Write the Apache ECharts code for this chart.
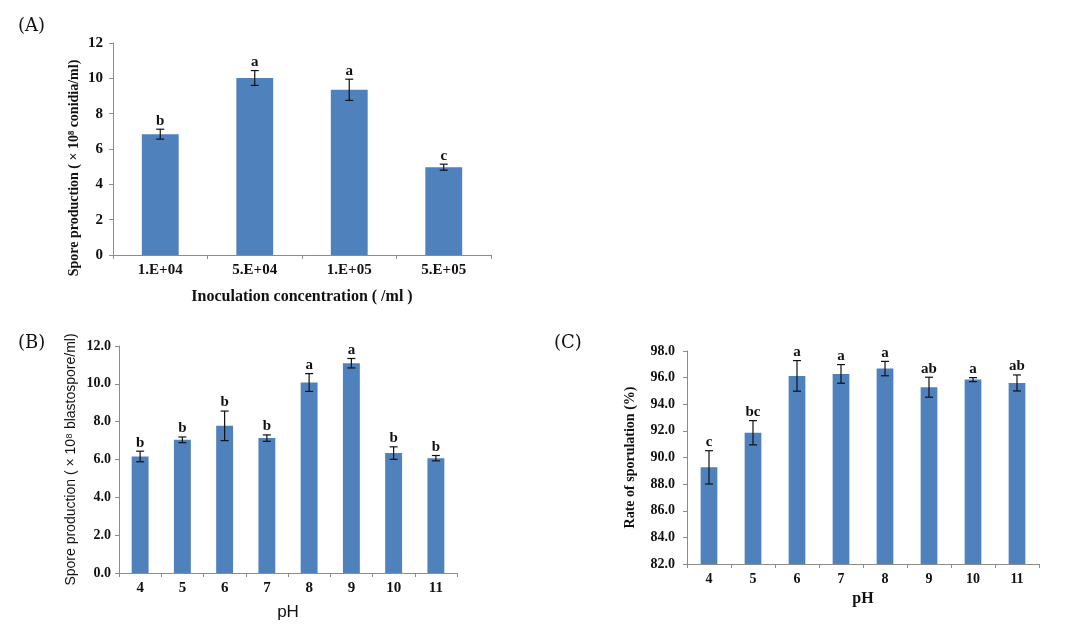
<!DOCTYPE html>
<html><head><meta charset="utf-8">
<script src="https://cdn.jsdelivr.net/npm/echarts@6/dist/echarts.min.js"></script>
<style>html,body{margin:0;padding:0;background:#fff}#c{width:1078px;height:627px}</style>
</head><body><div id="c"></div>
<script>
const categoriesA = ['1.E+04','5.E+04','1.E+05','5.E+05'];
const valuesA = [6.84, 10.02, 9.35, 4.97];
const errorsA = [0.28, 0.42, 0.6, 0.17];
const lettersA = ['b','a','a','c'];
const yTicksA = {min:0, max:12, interval:2};

const categoriesB = ['4','5','6','7','8','9','10','11'];
const valuesB = [6.16, 7.04, 7.78, 7.13, 10.07, 11.09, 6.34, 6.07];
const errorsB = [0.28, 0.15, 0.78, 0.17, 0.47, 0.25, 0.33, 0.14];
const lettersB = ['b','b','b','b','a','a','b','b'];
const yTicksB = {min:0, max:12, interval:2};

const categoriesC = ['4','5','6','7','8','9','10','11'];
const valuesC = [89.26, 91.86, 96.13, 96.28, 96.68, 95.28, 95.85, 95.6];
const errorsC = [1.25, 0.91, 1.15, 0.7, 0.54, 0.75, 0.15, 0.6];
const lettersC = ['c','bc','a','a','a','ab','a','ab'];
const yTicksC = {min:82, max:98, interval:2};

const BAR = '#4F81BD';
const AX = '#8c8c8c';
const SERIF = '"Liberation Serif","Times New Roman",serif';
const SANS = '"Liberation Sans",Arial,sans-serif';

const lettersAll = {};
function errItem(params, api){
  const x = api.value(0), v = api.value(1), e = api.value(2);
  const letter = lettersAll[params.seriesIndex][params.dataIndex];
  const top = api.coord([x, v + e]);
  const bot = api.coord([x, v - e]);
  const hw = 4;
  return {type:'group', children:[
    {type:'line', shape:{x1:top[0],y1:top[1],x2:bot[0],y2:bot[1]}, style:{stroke:'#111',lineWidth:1.2}},
    {type:'line', shape:{x1:top[0]-hw,y1:top[1],x2:top[0]+hw,y2:top[1]}, style:{stroke:'#111',lineWidth:1.2}},
    {type:'line', shape:{x1:bot[0]-hw,y1:bot[1],x2:bot[0]+hw,y2:bot[1]}, style:{stroke:'#111',lineWidth:1.2}},
    {type:'text', x:top[0], y:top[1]-1, style:{text:letter, textAlign:'center', textVerticalAlign:'bottom', font:'bold 15px '+SERIF, fill:'#111'}}
  ]};
}

function mkX(gi, cats, fontSize, name, nameFont, nameGap, nameSize, nameBold){
  return {type:'category', gridIndex:gi, data:cats, boundaryGap:true,
    axisLine:{lineStyle:{color:AX,width:1}}, axisTick:{show:true,length:4,lineStyle:{color:AX}},
    axisLabel:{color:'#111', fontFamily:SERIF, fontWeight:'bold', fontSize:fontSize, margin:8},
    name:name, nameLocation:'middle', nameGap:nameGap,
    nameTextStyle:{color:'#111', fontFamily:nameFont, fontWeight:nameBold?'bold':'normal', fontSize:nameSize}};
}
function mkY(gi, t, dec, fontSize, margin, name, nameFont, nameGap, nameSize, nameBold){
  return {type:'value', gridIndex:gi, min:t.min, max:t.max, interval:t.interval,
    splitLine:{show:false},
    axisLine:{show:true,lineStyle:{color:AX,width:1}}, axisTick:{show:true,length:4,lineStyle:{color:AX}},
    axisLabel:{color:'#111', fontFamily:SERIF, fontWeight:'bold', fontSize:fontSize, margin:margin,
      formatter:v=>v.toFixed(dec)},
    name:name, nameLocation:'middle', nameGap:nameGap, nameRotate:90,
    nameTextStyle:{color:'#111', fontFamily:nameFont, fontWeight:nameBold?'bold':'normal', fontSize:nameSize}};
}

const series = [];
function addPanel(gi, vals, errs, letters, bw){
  series.push({type:'bar', xAxisIndex:gi, yAxisIndex:gi, data:vals, barWidth:bw,
    itemStyle:{color:BAR}, silent:true});
  lettersAll[series.length] = letters;
  series.push({type:'custom', xAxisIndex:gi, yAxisIndex:gi, renderItem:errItem,
    data:vals.map((v,i)=>[i,v,errs[i]]), encode:{x:0,y:1}, z:5, silent:true});
}
addPanel(0, valuesA, errorsA, lettersA, '39%');
addPanel(1, valuesB, errorsB, lettersB, '40%');
addPanel(2, valuesC, errorsC, lettersC, '38%');

const chart = echarts.init(document.getElementById('c'), null, {renderer:'canvas'});
chart.setOption({
  animation:false,
  backgroundColor:'#fff',
  grid:[
    {left:113, top:43, width:378, height:212},
    {left:119, top:346, width:338, height:227},
    {left:687, top:351, width:352, height:213}
  ],
  xAxis:[
    mkX(0, categoriesA, 15, 'Inoculation concentration ( /ml )', SERIF, 34, 16, true),
    mkX(1, categoriesB, 15, 'pH', SANS, 31, 17, false),
    mkX(2, categoriesC, 14, 'pH', SERIF, 27, 16, true)
  ],
  yAxis:[
    mkY(0, yTicksA, 0, 15, 10, '', SERIF, 33, 13, true),
    mkY(1, yTicksB, 1, 14, 8, 'Spore production ( × 10⁸ blastospore/ml)', SANS, 41, 14, false),
    mkY(2, yTicksC, 1, 14, 12, 'Rate of sporulation (%)', SERIF, 50, 14, true)
  ],
  graphic:[
    {type:'text', left:18, top:17, style:{text:'(A)', font:'18px "DejaVu Serif",serif', fill:'#111'}},
    {type:'text', left:18, top:334, style:{text:'(B)', font:'18px "DejaVu Serif",serif', fill:'#111'}},
    {type:'text', left:554, top:334, style:{text:'(C)', font:'18px "DejaVu Serif",serif', fill:'#111'}},
    {type:'text', x:74, y:168, rotation:Math.PI/2,
      style:{text:'Spore production ( × 10⁸ conidia/ml)', font:'bold 14px '+SERIF, fill:'#111',
        textAlign:'center', textVerticalAlign:'middle'}}
  ],
  series:series
});
</script></body></html>
